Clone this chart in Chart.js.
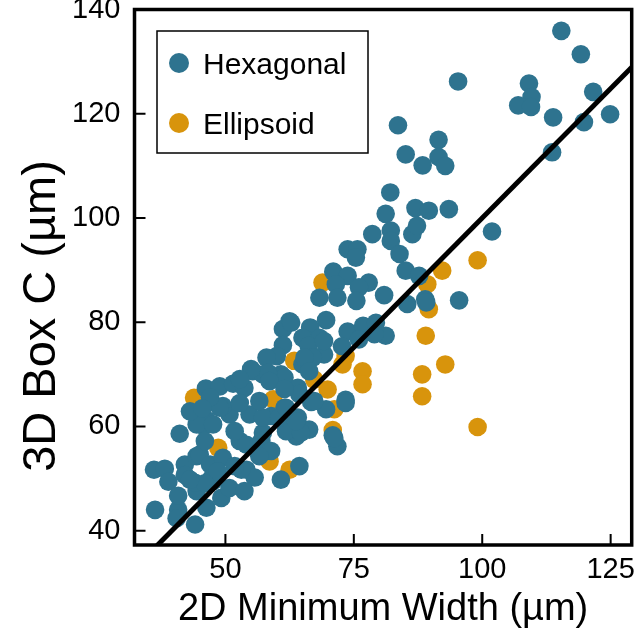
<!DOCTYPE html>
<html>
<head>
<meta charset="utf-8">
<script src="https://cdn.jsdelivr.net/npm/chart.js@4"></script>
<style>
  html, body { margin: 0; padding: 0; background: #fff; }
  canvas { display: block; }
</style>
</head>
<body>
<canvas id="chart" width="641" height="632"></canvas>
<script>
// [2D minimum width, 3D box C] in µm
const hexagonal = [
  [115.4,135.9],[119.2,131.4],[95.3,126.2],[109.1,125.8],[109.6,123.2],[107.0,121.6],[109.5,121.3],[121.6,124.2],
  [113.8,119.3],[124.9,119.9],[119.8,118.4],[113.6,112.6],
  [83.6,117.8],[91.5,115.0],[85.1,112.2],[91.5,111.7],[88.4,110.1],[92.8,110.0],[87.0,101.9],[89.6,101.4],[93.5,101.7],[82.1,104.9],
  [81.2,100.8],[78.6,96.9],[82.2,97.6],[86.4,96.9],[87.3,98.5],[82.2,95.6],[73.8,94.0],[75.7,94.0],[75.4,92.4],[83.9,93.1],[101.9,97.4],
  [85.1,89.9],[87.7,88.9],[71.0,89.7],[73.8,88.9],[77.9,87.6],[76.0,86.7],[71.5,87.3],[80.9,85.2],[88.9,84.4],[95.5,84.2],
  [75.5,84.1],[68.3,84.7],[71.8,84.7],[85.4,83.5],[89.1,83.8],
  [62.5,80.2],[61.2,78.7],[69.6,80.4],[66.5,79.0],[68.3,77.0],[65.0,77.0],[61.2,75.6],[60.0,73.5],[73.8,78.2],[76.8,79.3],
  [79.3,79.9],[81.2,77.4],[76.0,76.7],[72.7,75.4],[66.2,75.5],[69.2,73.8],[67.0,73.2],[65.0,71.9],[62.8,79.9],[79.0,77.7],
  [69.2,76.4],[65.4,73.2],[58.0,73.2],
  [55.3,70.6],[57.3,70.0],[46.2,67.3],[48.9,67.7],[51.5,68.2],[60.8,70.0],[61.5,69.4],[58.3,70.3],[64.1,67.4],[55.0,71.0],[53.7,67.4],
  [73.4,65.1],[66.7,64.7],[69.6,63.3],[73.4,64.5],[70.9,58.3],[71.8,56.2],[71.2,57.8],[67.3,64.9],
  [41.1,58.6],[45.7,60.1],[46.3,61.3],[44.4,60.4],[36.1,51.7],[38.2,51.9],[38.9,49.4],[42.1,52.7],[44.4,54.3],[45.0,54.6],
  [36.3,44.0],[40.8,44.0],[40.5,42.4],[44.1,41.2],[46.3,44.4],[49.2,46.3],[50.8,48.2],[47.6,49.5],[44.4,47.6],[40.8,46.7],
  [42.1,50.7],[47.0,52.7],[54.1,51.7],[55.7,50.2],[60.8,49.8],[64.4,52.4],[57.9,55.3],[53.1,51.7],[47.3,50.1],[44.1,49.2],
  [63.8,58.1],[66.3,59.4],[61.8,59.1],[57.3,58.8],[52.8,57.2],[64.7,58.8],[61.5,63.6],[58.9,62.0],[64.1,61.7],
  [49.5,54.0],[54.7,62.3],[47.6,60.4],[50.8,62.3],[57.3,61.7],[60.5,61.7],[63.8,61.0],[49.5,63.9],[52.8,64.5],[56.6,64.9],
  [61.8,63.6],[64.4,66.2],[48.9,63.6],[54.1,56.5],[57.0,57.2],[58.9,55.3],[46.0,57.2],[51.8,59.1],[58.6,68.7],[61.5,67.2],
  [66.3,70.6],[52.8,69.1],[47.0,65.6],[43.1,62.9],[56.6,54.3],[51.8,52.4],[48.5,51.4],[46.0,49.1],[43.1,49.8],[53.7,47.6],
  [45.5,63.5]
];
const ellipsoid = [
  [99.1,91.9],[92.2,89.9],[89.3,87.3],[89.6,82.5],[89.0,77.4],[92.8,71.9],[88.3,70.0],[88.3,65.8],[99.1,59.9],
  [76.7,70.6],[76.7,68.1],[68.9,87.6],[73.4,73.5],[72.8,71.9],[63.4,72.6],[67.3,69.0],[69.9,67.1],[59.3,65.2],
  [43.9,65.5],[71.2,63.3],[70.9,59.3],[48.6,55.9],[58.6,53.3],[62.5,51.7]
];
const fitLine = [[30, 30.5], [131, 130.8]];
const xTicks = [50, 75, 100, 125];
const yTicks = [40, 60, 80, 100, 120, 140];
const seriesNames = ['Hexagonal', 'Ellipsoid'];
const seriesColors = ['#2e738f', '#d8940c'];
const xTitle = '2D Minimum Width (µm)';
const yTitle = '3D Box C (µm)';

const FONT = "'Liberation Sans', Arial, Helvetica, sans-serif";
const toPoints = arr => arr.map(([x, y]) => ({x, y}));

// box frame, inward ticks, boxed legend and the y title (centred on the whole figure)
const framePlugin = {
  id: 'frame',
  afterDatasetsDraw(chart) {
    const {ctx, chartArea: a} = chart;
    const xs = chart.scales.x, ys = chart.scales.y;
    ctx.save();
    ctx.strokeStyle = '#000';
    ctx.lineWidth = 2;
    ctx.beginPath();
    xs.ticks.forEach(t => {
      const p = xs.getPixelForValue(t.value);
      ctx.moveTo(p, a.bottom); ctx.lineTo(p, a.bottom - 11);
    });
    ys.ticks.forEach(t => {
      const p = ys.getPixelForValue(t.value);
      ctx.moveTo(a.left, p); ctx.lineTo(a.left + 11, p);
    });
    ctx.stroke();
    ctx.lineWidth = 3.5;
    ctx.strokeRect(a.left, a.top, a.right - a.left, a.bottom - a.top);

    // legend
    const lx = a.left + 22.5, ly = a.top + 21.5;
    ctx.fillStyle = '#fff';
    ctx.fillRect(lx, ly, 211, 122);
    ctx.lineWidth = 1.5;
    ctx.strokeRect(lx, ly, 211, 122);
    ctx.font = '30px ' + FONT;
    ctx.textBaseline = 'alphabetic';
    seriesNames.forEach((name, i) => {
      const cy = ly + 32 + i * 60;
      ctx.fillStyle = seriesColors[i];
      ctx.beginPath();
      ctx.arc(lx + 22, cy, 10, 0, Math.PI * 2);
      ctx.fill();
      ctx.fillStyle = '#000';
      ctx.fillText(name, lx + 46, cy + 10.5);
    });

    // y title
    ctx.translate(42, chart.height / 2);
    ctx.rotate(-Math.PI / 2);
    ctx.font = '47px ' + FONT;
    ctx.textAlign = 'center';
    ctx.textBaseline = 'middle';
    ctx.fillStyle = '#000';
    ctx.fillText(yTitle, 0, 0);
    ctx.restore();
  }
};

// keep the plot box where the figure has it: no extra room for overhanging labels
const noOverhang = s => {
  s.paddingTop = 0; s.paddingBottom = 0; s.paddingLeft = 0; s.paddingRight = 0;
};

new Chart(document.getElementById('chart').getContext('2d'), {
  type: 'scatter',
  data: {
    datasets: [
      {
        label: 'fit',
        type: 'line',
        data: toPoints(fitLine),
        borderColor: '#000',
        borderWidth: 5,
        pointRadius: 0,
        fill: false,
        clip: 0,
        order: 0
      },
      {
        label: seriesNames[0],
        data: toPoints(hexagonal),
        backgroundColor: seriesColors[0],
        pointRadius: 9.3,
        pointBorderWidth: 0,
        order: 1
      },
      {
        label: seriesNames[1],
        data: toPoints(ellipsoid),
        backgroundColor: seriesColors[1],
        pointRadius: 9.3,
        pointBorderWidth: 0,
        order: 2
      }
    ]
  },
  options: {
    responsive: false,
    animation: false,
    devicePixelRatio: 1,
    layout: { padding: { top: 9.5, right: 8, left: 0, bottom: 0 } },
    plugins: { legend: { display: false }, tooltip: { enabled: false } },
    scales: {
      x: {
        type: 'linear',
        min: 32.3,
        max: 129.1,
        grid: { display: false },
        border: { display: false },
        afterBuildTicks: s => { s.ticks = xTicks.map(v => ({ value: v })); },
        afterFit: s => { s.height = 87; noOverhang(s); },
        ticks: { color: '#000', padding: 0, maxRotation: 0, autoSkip: false,
                 font: { family: FONT, size: 29 } },
        title: { display: true, text: xTitle, color: '#000',
                 font: { family: FONT, size: 38, lineHeight: 1 }, padding: { top: 0, bottom: 3 } }
      },
      y: {
        type: 'linear',
        min: 37.26,
        max: 140,
        grid: { display: false },
        border: { display: false },
        afterBuildTicks: s => { s.ticks = yTicks.map(v => ({ value: v })); },
        afterFit: s => { s.width = 134.5; noOverhang(s); },
        ticks: { color: '#000', padding: 6, autoSkip: false,
                 font: { family: FONT, size: 29 } },
        title: { display: false, text: yTitle }
      }
    }
  },
  plugins: [framePlugin]
});
</script>
</body>
</html>
